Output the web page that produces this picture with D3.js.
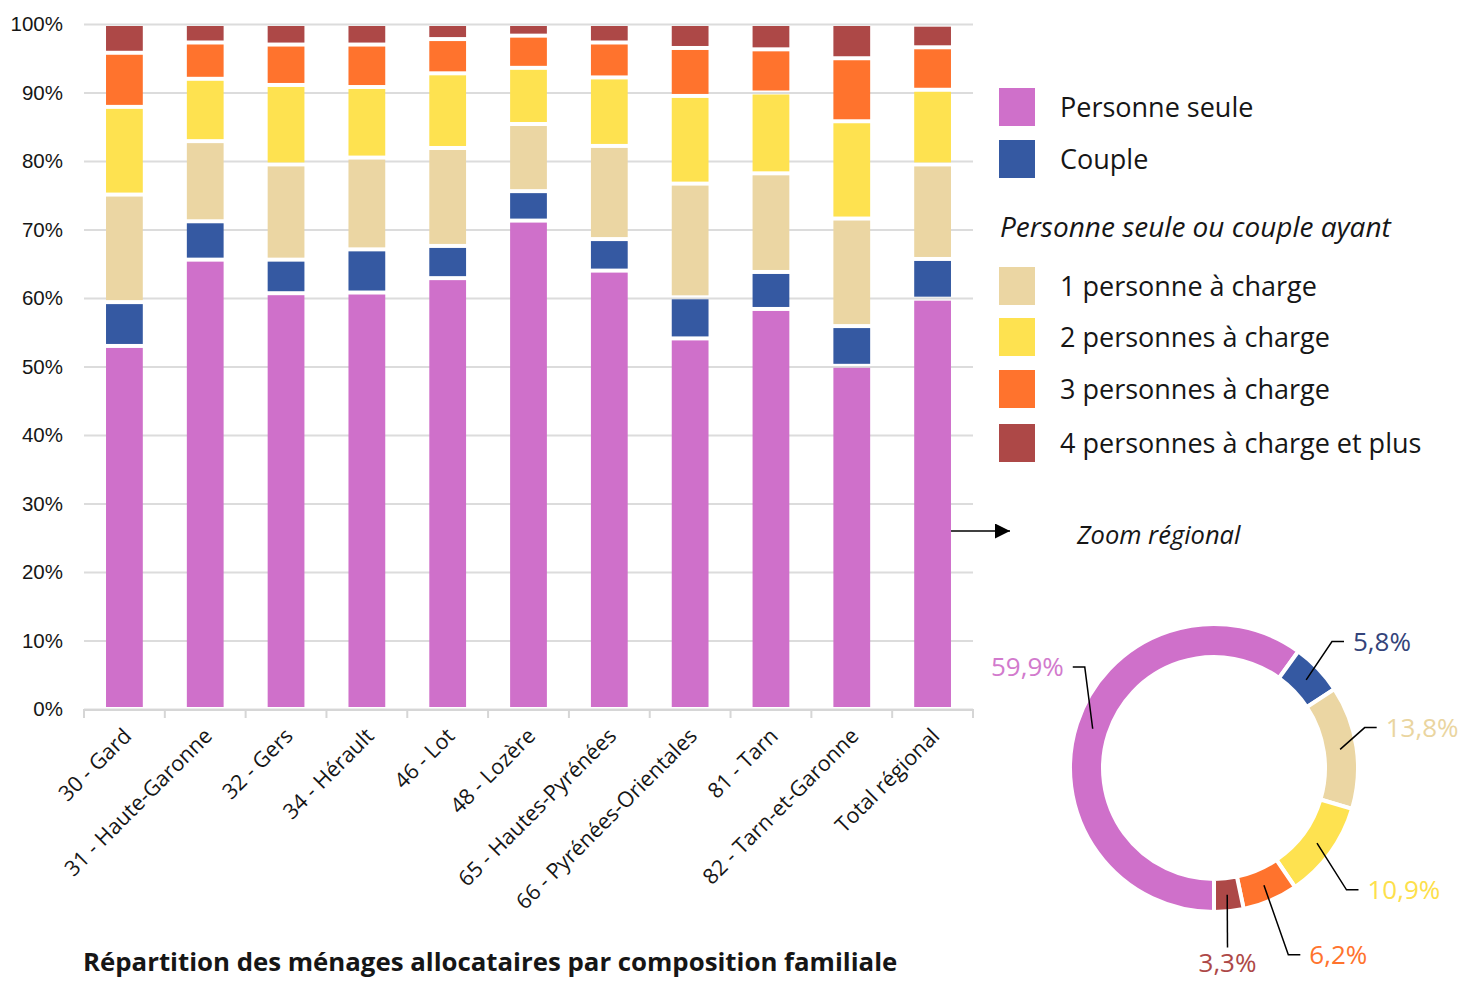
<!DOCTYPE html>
<html>
<head>
<meta charset="utf-8">
<script src="https://cdn.jsdelivr.net/npm/d3@7"></script>
<style>
  body { margin: 0; background: #fff; }
  svg { display: block; font-family: "Open Sans", sans-serif; }
</style>
</head>
<body>
<div id="chart"></div>
<script>
// Données : répartition des ménages allocataires (%)
const categories = ["30 - Gard", "31 - Haute-Garonne", "32 - Gers", "34 - Hérault", "46 - Lot",
    "48 - Lozère", "65 - Hautes-Pyrénées", "66 - Pyrénées-Orientales", "81 - Tarn",
    "82 - Tarn-et-Garonne", "Total régional"];
const personneSeule = [53.0, 65.6, 60.7, 60.8, 62.9, 71.3, 64.0, 54.1, 58.4, 50.1, 59.9];
const couple        = [6.4, 5.6, 4.9, 6.3, 4.7, 4.3, 4.6, 6.0, 5.4, 5.8, 5.8];
const unePersonne   = [15.7, 11.7, 13.9, 13.4, 14.3, 9.8, 13.6, 16.6, 14.4, 15.7, 13.8];
const deuxPersonnes = [12.8, 9.1, 11.6, 10.3, 10.9, 8.2, 10.0, 12.8, 11.8, 14.2, 10.9];
const troisPersonnes = [7.9, 5.3, 5.9, 6.2, 5.0, 4.7, 5.1, 7.0, 6.3, 9.2, 6.2];
const quatrePlus    = [4.2, 2.7, 3.0, 3.0, 2.2, 1.7, 2.7, 3.5, 3.7, 5.0, 3.3];

const seriesNames = ["Personne seule", "Couple", "1 personne à charge", "2 personnes à charge",
    "3 personnes à charge", "4 personnes à charge et plus"];
const yTicks = [0, 10, 20, 30, 40, 50, 60, 70, 80, 90, 100];

const colors = ["#cf70ca", "#3559a2", "#ebd6a3", "#fee250", "#ff732d", "#ad4847"];
const labelColors = ["#d27acd", "#34437a", "#ead5a0", "#fde04a", "#ff732d", "#ad4847"];

const width = 1460, height = 981;
const svg = d3.select("#chart").append("svg")
    .attr("width", width)
    .attr("height", height);

const seriesValues = [personneSeule, couple, unePersonne, deuxPersonnes, troisPersonnes, quatrePlus];
const keys = seriesNames;
const table = categories.map((c, i) => {
    const row = { cat: c };
    keys.forEach((k, j) => row[k] = seriesValues[j][i]);
    return row;
});

// Scales
const x = d3.scaleBand()
    .domain(categories)
    .range([84, 973])
    .paddingInner(0.545)
    .paddingOuter(0.2725);
const y = d3.scaleLinear().domain([0, 100]).range([709, 24]);

// Grid + y labels
const yAxis = svg.append("g")
    .attr("transform", "translate(84,0)")
    .call(d3.axisLeft(y).tickValues(yTicks).tickSize(-(973 - 84)).tickPadding(21).tickFormat(d => d + "%"));
yAxis.select(".domain").remove();
yAxis.selectAll(".tick line").attr("stroke", "#dcdcdc").attr("stroke-width", 2);
yAxis.selectAll(".tick text")
    .attr("fill", "#161616")
    .style("font-size", "20.5px");

// Stacked bars
const stack = d3.stack().keys(keys)(table);
const gap = 2;
svg.append("g").selectAll("g")
    .data(stack)
    .enter().append("g")
    .attr("fill", (d, i) => colors[i])
    .selectAll("rect")
    .data(d => d)
    .enter().append("rect")
    .attr("x", d => x(d.data.cat))
    .attr("width", x.bandwidth())
    .attr("y", d => y(d[1]) + gap)
    .attr("height", d => Math.max(0, y(d[0]) - y(d[1]) - 2 * gap));

// X axis
const xAxisG = svg.append("g");
xAxisG.append("line")
    .attr("x1", x.range()[0]).attr("x2", x.range()[1])
    .attr("y1", y(0) + 1).attr("y2", y(0) + 1)
    .attr("stroke", "#d6d6d6").attr("stroke-width", 2);
xAxisG.selectAll(".xtick")
    .data(d3.range(categories.length + 1))
    .enter().append("line")
    .attr("x1", i => x.range()[0] + i * x.step())
    .attr("x2", i => x.range()[0] + i * x.step())
    .attr("y1", y(0)).attr("y2", y(0) + 9)
    .attr("stroke", "#d6d6d6").attr("stroke-width", 2);
xAxisG.selectAll(".xlabel")
    .data(categories)
    .enter().append("text")
    .attr("transform", d => `translate(${x(d) + x.bandwidth() / 2 + 3},${y(0) + 23}) rotate(-45)`)
    .attr("text-anchor", "end")
    .attr("dy", "0.35em")
    .attr("fill", "#161616")
    .style("font-size", "21.5px")
    .text(d => d);

// Title
svg.append("text")
    .attr("x", 83).attr("y", 971)
    .attr("fill", "#161616")
    .style("font-size", "25.8px")
    .style("font-weight", "bold")
    .text("Répartition des ménages allocataires par composition familiale");

// Legend
const legend = svg.append("g");
const legendRows = [
    { i: 0, top: 88 }, { i: 1, top: 140 },
    { i: 2, top: 267 }, { i: 3, top: 318 }, { i: 4, top: 370 }, { i: 5, top: 424 }
];
legendRows.forEach(r => {
    legend.append("rect")
        .attr("x", 999).attr("y", r.top)
        .attr("width", 36).attr("height", 38)
        .attr("fill", colors[r.i]);
    legend.append("text")
        .attr("x", 1060).attr("y", r.top + 29)
        .attr("fill", "#161616")
        .style("font-size", "27px")
        .text(seriesNames[r.i]);
});
legend.append("text")
    .attr("x", 1000).attr("y", 237)
    .attr("fill", "#161616")
    .style("font-size", "28px")
    .style("font-style", "italic")
    .text("Personne seule ou couple ayant");

// Arrow + zoom label
const defs = svg.append("defs");
defs.append("marker")
    .attr("id", "arrow")
    .attr("viewBox", "0 0 10 10")
    .attr("refX", 10).attr("refY", 5)
    .attr("markerWidth", 15).attr("markerHeight", 15)
    .attr("markerUnits", "userSpaceOnUse")
    .attr("orient", "auto")
    .append("path").attr("d", "M0,0 L10,5 L0,10 Z").attr("fill", "#000");
svg.append("line")
    .attr("x1", 951).attr("x2", 1010)
    .attr("y1", 531).attr("y2", 531)
    .attr("stroke", "#000").attr("stroke-width", 1.5)
    .attr("marker-end", "url(#arrow)");
svg.append("text")
    .attr("x", 1077).attr("y", 544)
    .attr("fill", "#161616")
    .style("font-size", "25.5px")
    .style("font-style", "italic")
    .text("Zoom régional");

// Donut (total régional)
const totalIdx = categories.length - 1;
const totalValues = seriesValues.map(s => s[totalIdx]);
const cx = 1214, cy = 768, rInner = 111, rOuter = 144;
const pie = d3.pie().sort(null).startAngle(Math.PI).endAngle(3 * Math.PI);
const arcs = pie(totalValues);
const arc = d3.arc().innerRadius(rInner).outerRadius(rOuter);
const donut = svg.append("g").attr("transform", `translate(${cx},${cy})`);
donut.selectAll("path")
    .data(arcs)
    .enter().append("path")
    .attr("d", arc)
    .attr("fill", (d, i) => colors[i])
    .attr("stroke", "#fff")
    .attr("stroke-width", 4);

// Label elbows (polar layout: degrees clockwise from 12 o'clock, radius)
const labelLayout = [
    { angle: 308, r: 164, side: -1 },
    { angle: 43, r: 173, side: 1 },
    { angle: 75, r: 156, side: 1 },
    { angle: 132.6, r: 180, side: 1 },
    { angle: 158.3, r: 201, side: 1 },
    { angle: 175.7, r: 180, side: 0 }
];
const polar = (deg, r) => [r * Math.sin(deg * Math.PI / 180), -r * Math.cos(deg * Math.PI / 180)];
const fmt = v => v.toFixed(1).replace(".", ",") + "%";
const rMid = (rInner + rOuter) / 2;
arcs.forEach((a, i) => {
    const L = labelLayout[i];
    const start = polar((a.startAngle + a.endAngle) / 2 * 180 / Math.PI, rMid);
    const elbow = polar(L.angle, L.r);
    const pts = [start, elbow];
    if (L.side !== 0) pts.push([elbow[0] + L.side * 12, elbow[1]]);
    donut.append("path")
        .attr("d", d3.line()(pts))
        .attr("fill", "none")
        .attr("stroke", "#000")
        .attr("stroke-width", 1.5);
    const t = donut.append("text")
        .attr("fill", labelColors[i])
        .style("font-size", "26px")
        .text(fmt(a.data));
    if (L.side === 0) {
        t.attr("x", elbow[0]).attr("y", elbow[1] + 25).attr("text-anchor", "middle");
    } else {
        t.attr("x", elbow[0] + L.side * 21)
            .attr("y", elbow[1])
            .attr("dy", "0.35em")
            .attr("text-anchor", L.side > 0 ? "start" : "end");
    }
});
</script>
</body>
</html>
